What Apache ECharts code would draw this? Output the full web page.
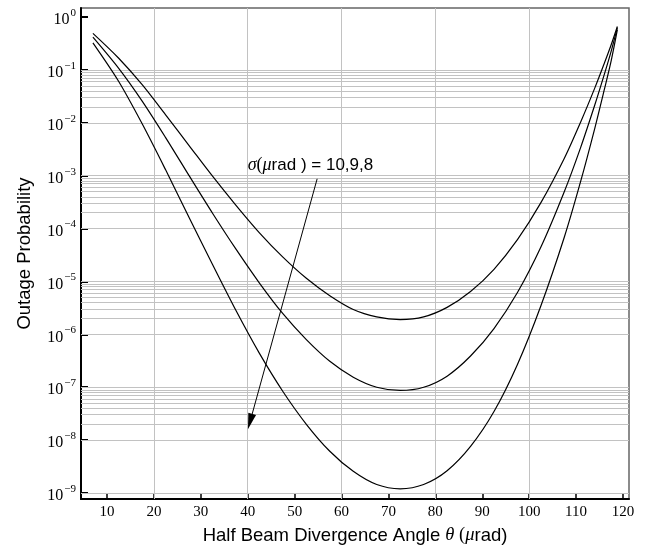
<!DOCTYPE html>
<html><head><meta charset="utf-8">
<script src="https://cdn.jsdelivr.net/npm/echarts@6/dist/echarts.min.js"></script>
<style>html,body{margin:0;padding:0;background:#fff}#c{width:649px;height:550px}</style>
</head><body><div id="c"></div>
<script>
// Half beam divergence angle theta (µrad)
const theta = [7,12.5,17.5,22.5,27.5,32.5,37.5,42.5,47.5,52.5,57.5,62.5,67.5,72.5,77.5,82.5,87.5,92.5,97.5,102.5,107.5,111,114,116,117.5,118.8];
// log10 of outage probability, sigma = 10 µrad
const log10P_s10 = [-0.31,-0.78,-1.28,-1.85,-2.43,-3.01,-3.56,-4.08,-4.54,-4.94,-5.27,-5.53,-5.67,-5.72,-5.67,-5.49,-5.19,-4.77,-4.21,-3.51,-2.67,-1.98,-1.34,-0.88,-0.52,-0.18];
// sigma = 9 µrad
const log10P_s9 = [-0.38,-0.97,-1.59,-2.28,-3.00,-3.71,-4.39,-5.03,-5.61,-6.10,-6.51,-6.81,-7.00,-7.06,-7.00,-6.79,-6.41,-5.89,-5.21,-4.35,-3.30,-2.46,-1.66,-1.09,-0.64,-0.20];
// sigma = 8 µrad
const log10P_s8 = [-0.49,-1.22,-2.02,-2.89,-3.79,-4.68,-5.55,-6.36,-7.08,-7.70,-8.21,-8.59,-8.84,-8.92,-8.84,-8.58,-8.12,-7.46,-6.57,-5.46,-4.16,-3.10,-2.10,-1.38,-0.82,-0.24];

const xTicks = [10,20,30,40,50,60,70,80,90,100,110,120];
const yTickExps = [-9,-8,-7,-6,-5,-4,-3,-2,-1,0];
const xGridLines = [20,40,60,80,100];
const yGridDecades = [-8,-6,-4,-2];   // decades with minor grid lines (1..10 x 10^n)
const yGridExtra = [-9];
const annotationText = 'rad ) = 10,9,8';
const annotationAt = [40, -2.81];
const arrowFrom = [54.8, -3.06];
const arrowTo = [40.5, -7.65];

const SERIF = '"Liberation Serif", "DejaVu Serif", serif';
const SANS = '"Liberation Sans", Arial, sans-serif';

const hLines = [];
yGridDecades.forEach(n => { for (let k = 1; k <= 10; k++) hLines.push({yAxis: n + Math.log10(k)}); });
yGridExtra.forEach(n => hLines.push({yAxis: n}));
const vLines = xGridLines.map(v => ({xAxis: v}));

const curve = (arr) => ({
  type: 'line', data: theta.map((x, i) => [x, arr[i]]), smooth: 0.3,
  symbol: 'none', lineStyle: {color: '#000', width: 1.2}, z: 5, silent: true
});

const chart = echarts.init(document.getElementById('c'), null, {renderer: 'canvas'});
chart.setOption({
  animation: false,
  grid: {left: 81, right: 20, top: 8, bottom: 50, show: true, borderColor: '#666', borderWidth: 1.5, backgroundColor: 'transparent'},
  xAxis: {
    type: 'value', min: 4.46, max: 121.28,
    axisLine: {show: true, onZero: false, lineStyle: {color: '#000', width: 2}},
    axisTick: {show: true, inside: true, length: 6, customValues: xTicks, lineStyle: {color: '#000', width: 1.5}},
    axisLabel: {customValues: xTicks, margin: 6, color: '#000', fontFamily: SERIF, fontSize: 15},
    splitLine: {show: false},
    name: '{t|Half Beam Divergence Angle }{i|θ}{p| (}{i|μ}{t|rad)}',
    nameLocation: 'middle', nameGap: 27,
    nameTextStyle: {rich: {
      t: {fontFamily: SANS, fontSize: 18.5, color: '#000'},
      i: {fontFamily: SERIF, fontStyle: 'italic', fontSize: 18.5, color: '#000'},
      p: {fontFamily: SERIF, fontSize: 18.5, color: '#000'}
    }}
  },
  yAxis: {
    type: 'value', min: -9.113, max: 0.17,
    axisLine: {show: true, onZero: false, lineStyle: {color: '#000', width: 2}},
    axisTick: {show: true, inside: true, length: 7, customValues: yTickExps, lineStyle: {color: '#000', width: 2}},
    axisLabel: {
      customValues: yTickExps, margin: 5,
      formatter: v => '{b|10}{s|' + (Math.round(v) === 0 ? '0' : '\u2212' + Math.round(-v)) + '}',
      rich: {
        b: {fontFamily: SERIF, fontSize: 16, color: '#000', padding: [6, 0, 0, 0]},
        s: {fontFamily: SERIF, fontSize: 11, color: '#000', padding: [0, 0, 8, 1]}
      }
    },
    splitLine: {show: false},
    name: 'Outage Probability', nameLocation: 'middle', nameGap: 47,
    nameTextStyle: {fontFamily: SANS, fontSize: 18.5, color: '#000'}
  },
  series: [
    {
      type: 'line', data: [], z: 1, silent: true,
      markLine: {silent: true, symbol: ['none', 'none'], label: {show: false}, animation: false,
        lineStyle: {color: '#c2c2c2', width: 1, type: 'solid'},
        emphasis: {disabled: true},
        data: hLines.concat(vLines)}
    },
    curve(log10P_s10),
    curve(log10P_s9),
    curve(log10P_s8),
    {
      type: 'line', data: [], z: 6, silent: true,
      markLine: {silent: true, symbol: ['none', 'triangle'], symbolSize: [8, 16], label: {show: false}, animation: false,
        lineStyle: {color: '#000', width: 1, type: 'solid'},
        emphasis: {disabled: true},
        data: [[{coord: arrowFrom}, {coord: arrowTo}]]},
      markPoint: {silent: true, symbol: 'circle', symbolSize: 0, animation: false,
        data: [{coord: annotationAt, label: {show: true, position: 'right', distance: 0,
          formatter: '{i|σ}{p|(}{i|μ}{t|' + annotationText + '}',
          rich: {
            t: {fontFamily: SANS, fontSize: 17, color: '#000'},
            i: {fontFamily: SERIF, fontStyle: 'italic', fontSize: 18, color: '#000'},
            p: {fontFamily: SERIF, fontSize: 18, color: '#000'}
          }}}]}
    }
  ]
});
</script>
</body></html>
